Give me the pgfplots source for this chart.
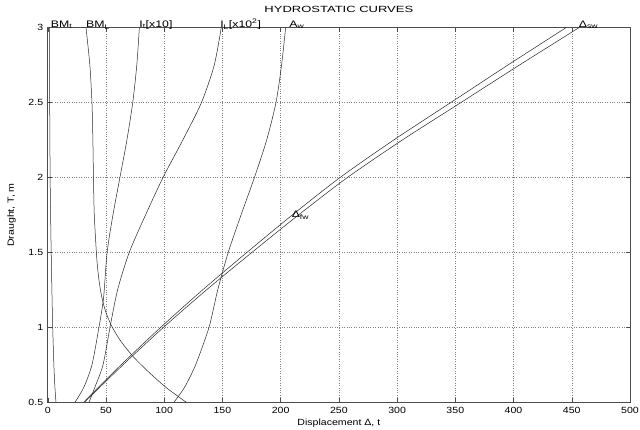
\documentclass[border=0pt]{standalone}
\usepackage{fontspec}
\setmainfont{Liberation Sans}[FakeStretch=1.18]
\newfontfamily\titlefont{Liberation Sans}[FakeStretch=1.45]
\newfontfamily\lblfont{Liberation Sans}[FakeStretch=1.3]
\usepackage{pgfplots}
\pgfplotsset{compat=1.18}
\usetikzlibrary{calc}

\begin{document}
\begin{tikzpicture}[font=\fontsize{9}{10}\selectfont,
    lbl/.style={anchor=base west, inner sep=0, font=\lblfont\fontsize{9.5}{10}\selectfont}]
\begin{axis}[
    scale only axis,
    width=582.3bp, height=374.6bp,
    xmin=0, xmax=500, ymin=0.5, ymax=3,
    xtick={0,50,...,500},
    ytick={0.5,1,1.5,2,2.5,3},
    yticklabels={0.5,1,1.5,2,2.5,3},
    /pgf/number format/assume math mode=true,
    tick align=inside, xtick pos=both, ytick pos=both,
    major tick length=4bp,
    tick style={black!70, line width=0.4bp},
    axis line style={black!70, line width=0.5bp},
    grid=major,
    grid style={dotted, black!50, line width=0.5bp},
    xticklabel style={yshift=-1bp},
    yticklabel style={xshift=-1bp},
    title={\titlefont HYDROSTATIC CURVES},
    title style={at={(0.5,1)}, anchor=base, yshift=9.4bp},
    xlabel={Displacement Δ, t},
    xlabel style={at={(axis description cs:0.5,0)}, anchor=base, yshift=-22.7bp},
    ylabel={Draught, T, m},
    ylabel style={at={(axis description cs:-0.0579,0.5)}, anchor=base},
    clip=false,
    hc/.style={black!85, line width=0.5bp, solid, no markers, smooth, tension=0.45},
]
% BM_t
\addplot[hc] coordinates {(7.1,0.5) (6.2,0.6) (5.3,0.75) (4.3,1) (3.6,1.25) (3.0,1.5) (2.5,1.75) (2.1,2) (1.7,2.5) (1.4,3)};
% BM_L
\addplot[hc] coordinates {(119,0.5) (101.5,0.6) (87,0.7) (74,0.8) (63.5,0.9) (55.5,1.0) (50,1.1) (46.5,1.2) (44.3,1.3) (42.8,1.4) (41.8,1.5) (40,1.75) (39.3,2) (38.8,2.25) (38,2.5) (36.2,2.75) (32.9,3)};
% I_t [x10]
\addplot[hc] coordinates {(23.4,0.5) (31,0.6) (38,0.75) (44,1.0) (48,1.2) (51,1.5) (56,1.75) (62,2) (68,2.25) (73,2.5) (76.5,2.75) (78.7,3)};
% I_L [x10^2]
\addplot[hc] coordinates {(35.5,0.5) (40.5,0.6) (47.5,0.75) (53.5,1.0) (60,1.25) (70,1.5) (84,1.75) (99,2) (116,2.25) (132,2.5) (143,2.75) (149,3)};
% A_w
\addplot[hc] coordinates {(108.4,0.5) (117.5,0.6) (127,0.75) (138.5,1) (146,1.25) (155,1.5) (166,1.75) (177.5,2) (188,2.25) (196,2.5) (200.8,2.75) (204.3,3)};
% Delta_fw
\addplot[hc] coordinates {(30.8,0.5) (63,0.75) (97,1) (133,1.25) (171,1.5) (210,1.75) (251,2) (297,2.25) (346,2.5) (395,2.75) (445,3)};
% Delta_sw
\addplot[hc] coordinates {(31.6,0.5) (64.6,0.75) (99.4,1) (136.3,1.25) (175.3,1.5) (215.3,1.75) (257.3,2) (304.4,2.25) (354.7,2.5) (404.9,2.75) (456.1,3)};

\node[lbl] at (axis cs:2.6,3) {BM\textsubscript{t}};
\node[lbl] at (axis cs:32.9,3) {BM\textsubscript{L}};
\node[lbl] at (axis cs:78.6,3) {I\textsubscript{t}[x10]};
\node[lbl] at (axis cs:148,3) {I\textsubscript{L}[x10\textsuperscript{2}]};
\node[lbl] at (axis cs:207.4,3) {A\textsubscript{w}};
\node[lbl] at (axis cs:209.4,1.73) {Δ\textsubscript{fw}};
\node[lbl] at (axis cs:456,3) {Δ\textsubscript{sw}};
\end{axis}
\pgfresetboundingbox
\path ($(current axis.south west)+(-47.7bp,-27.7bp)$) rectangle ($(current axis.north east)+(10bp,27.7bp)$);
\end{tikzpicture}
\end{document}
